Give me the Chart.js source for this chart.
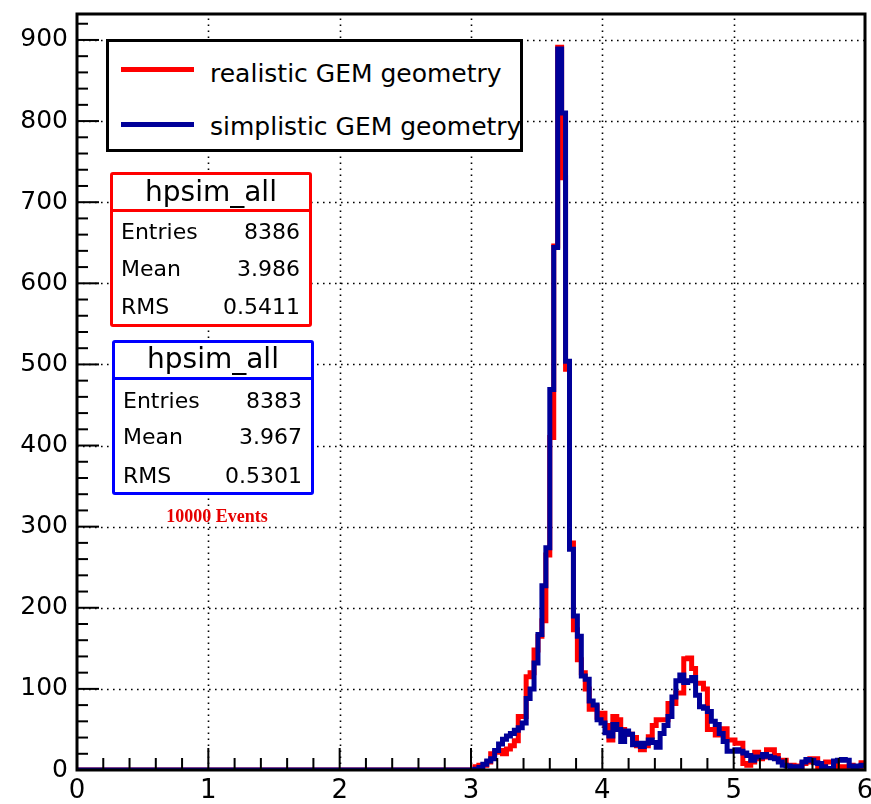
<!DOCTYPE html>
<html>
<head>
<meta charset="utf-8">
<title>hpsim_all</title>
<script src="https://cdn.jsdelivr.net/npm/chart.js@4.4.1/dist/chart.umd.min.js"></script>
<style>
  html, body { margin: 0; padding: 0; background: #fff; }
  #wrap { position: relative; width: 871px; height: 804px; overflow: hidden; }
  #chart { position: absolute; left: 0; top: 0; }
  .box { position: absolute; box-sizing: border-box; background: #fff; }
  .txt { position: absolute; font-family: 'DejaVu Sans', sans-serif; color: #000; white-space: nowrap; }
  .swatch { position: absolute; height: 5px; }
  .stat { font-size: 22px; line-height: 22px; }
  .title { font-size: 28px; line-height: 28px; }
  .leg { font-size: 25px; line-height: 25px; }
</style>
</head>
<body>
<div id="wrap">
  <canvas id="chart" width="871" height="804"></canvas>

  <!-- legend -->
  <div class="box" style="left:106px;top:39px;width:417px;height:113px;border:3px solid #000;"></div>
  <div class="swatch" style="left:121px;top:67px;width:73px;background:#ff0000;"></div>
  <div class="swatch" style="left:121px;top:122px;width:73px;background:#000099;"></div>
  <div class="txt leg" style="left:210px;top:61px;">realistic GEM geometry</div>
  <div class="txt leg" style="left:210px;top:114px;">simplistic GEM geometry</div>

  <!-- stats: realistic -->
  <div class="box" style="left:110px;top:172px;width:202px;height:155px;border:3px solid #ff0000;border-radius:3px;"></div>
  <div class="box" style="left:110px;top:209px;width:202px;height:3px;background:#ff0000;"></div>
  <div class="txt title" style="left:110px;width:202px;text-align:center;top:178px;">hpsim_all</div>
  <div class="txt stat" style="left:121px;top:221px;">Entries</div>
  <div class="txt stat" style="left:121px;top:258px;">Mean</div>
  <div class="txt stat" style="left:121px;top:296px;">RMS</div>
  <div class="txt stat" style="right:571px;top:221px;">8386</div>
  <div class="txt stat" style="right:571px;top:258px;">3.986</div>
  <div class="txt stat" style="right:571px;top:296px;">0.5411</div>

  <!-- stats: simplistic -->
  <div class="box" style="left:112px;top:340px;width:202px;height:155px;border:3px solid #0000ff;border-radius:3px;"></div>
  <div class="box" style="left:112px;top:377px;width:202px;height:3px;background:#0000ff;"></div>
  <div class="txt title" style="left:112px;width:202px;text-align:center;top:345px;">hpsim_all</div>
  <div class="txt stat" style="left:123px;top:390px;">Entries</div>
  <div class="txt stat" style="left:123px;top:426px;">Mean</div>
  <div class="txt stat" style="left:123px;top:465px;">RMS</div>
  <div class="txt stat" style="right:569px;top:390px;">8383</div>
  <div class="txt stat" style="right:569px;top:426px;">3.967</div>
  <div class="txt stat" style="right:569px;top:465px;">0.5301</div>

  <div class="txt" style="left:117px;width:200px;text-align:center;top:507px;font-family:'Liberation Serif',serif;font-weight:bold;font-size:18px;line-height:18px;color:#e60000;">10000 Events</div>
</div>

<script>
// histogram binning: 200 bins of 0.03 on [0, 6]; everything below 3.0 is empty
const xRange = [0, 6];
const yRange = [0, 932];
const binLow = 3.0;
const binWidth = 0.03;
const xTicks = [0, 1, 2, 3, 4, 5, 6];
const yTicks = [0, 100, 200, 300, 400, 500, 600, 700, 800, 900];

// bin contents from 3.00 to 5.97 (left edges)
const realistic = [
  0, 4, 6, 6, 10, 20, 22, 24, 20, 26,
  30, 36, 66, 66, 115, 120, 148, 165, 184, 265,
  410, 646, 891, 730, 494, 280, 173, 136, 120, 100,
  75, 78, 65, 70, 55, 37, 66, 62, 50, 45,
  44, 40, 30, 25, 30, 41, 55, 62, 62, 62,
  82, 82, 95, 95, 137, 138, 125, 107, 107, 100,
  50, 50, 43, 51, 51, 37, 37, 33, 33, 8,
  6, 10, 22, 14, 16, 25, 25, 18, 12, 12,
  6, 6, 5, 4, 8, 10, 14, 14, 2, 2,
  10, 10, 8, 2, 4, 4, 6, 4, 2, 9
];
const simplistic = [
  0, 1, 3, 7, 11, 14, 24, 32, 38, 42,
  45, 49, 52, 58, 88, 100, 132, 167, 227, 274,
  469, 644, 889, 810, 504, 272, 190, 165, 116, 112,
  85, 80, 62, 58, 46, 42, 56, 50, 35, 48,
  44, 31, 33, 29, 33, 37, 34, 28, 45, 55,
  66, 90, 110, 117, 108, 110, 114, 92, 78, 76,
  72, 60, 56, 45, 35, 23, 23, 25, 23, 21,
  18, 12, 16, 16, 19, 17, 15, 14, 10, 6,
  5, 4, 4, 4, 10, 13, 12, 9, 8, 4,
  2, 1, 11, 12, 13, 12, 5, 4, 5, 6
];

function toSteps(values) {
  const pts = [{ x: xRange[0], y: 0 }];
  values.forEach((v, i) => pts.push({ x: +(binLow + i * binWidth).toFixed(2), y: v }));
  pts.push({ x: xRange[1], y: values[values.length - 1] });
  return pts;
}

// ROOT style frame: dotted grid, thick box, ticks pointing inwards
const rootFrame = {
  id: 'rootFrame',
  beforeDatasetsDraw(chart) {
    const { ctx, chartArea: a, scales: { x, y } } = chart;
    ctx.save();
    ctx.strokeStyle = '#000';
    ctx.lineWidth = 1.6;
    ctx.setLineDash([1.6, 4.4]);
    xTicks.slice(1, -1).forEach(v => {
      const px = Math.round(x.getPixelForValue(v)) + 0.5;
      ctx.beginPath(); ctx.moveTo(px, a.bottom); ctx.lineTo(px, a.top); ctx.stroke();
    });
    yTicks.slice(1).forEach(v => {
      const py = Math.round(y.getPixelForValue(v)) + 0.5;
      ctx.beginPath(); ctx.moveTo(a.left, py); ctx.lineTo(a.right, py); ctx.stroke();
    });
    ctx.restore();
  },
  afterDatasetsDraw(chart) {
    const { ctx, chartArea: a, scales: { x, y } } = chart;
    ctx.save();
    ctx.strokeStyle = '#000';
    ctx.lineWidth = 3;
    ctx.strokeRect(a.left, a.top, a.right - a.left, a.bottom - a.top);
    ctx.lineWidth = 2;
    // x ticks every 0.2, long at integers
    for (let k = 0; k <= 30; k++) {
      const px = x.getPixelForValue(k * 0.2);
      const len = k % 5 === 0 ? 22 : 12;
      ctx.beginPath(); ctx.moveTo(px, a.bottom); ctx.lineTo(px, a.bottom - len); ctx.stroke();
    }
    // y ticks every 20, long at hundreds
    for (let v = 0; v <= yRange[1]; v += 20) {
      const py = y.getPixelForValue(v);
      const len = v % 100 === 0 ? 22 : 11;
      ctx.beginPath(); ctx.moveTo(a.left, py); ctx.lineTo(a.left + len, py); ctx.stroke();
    }
    ctx.restore();
  }
};

function noPad(s) {
  s.paddingTop = 0; s.paddingBottom = 0; s.paddingLeft = 0; s.paddingRight = 0;
}

new Chart(document.getElementById('chart').getContext('2d'), {
  type: 'line',
  data: {
    datasets: [{
      label: 'simplistic GEM geometry',
      data: toSteps(simplistic),
      borderColor: '#000099',
      borderWidth: 5,
      stepped: 'before',
      pointRadius: 0,
      borderJoinStyle: 'miter',
      borderCapStyle: 'butt',
      fill: false,
      order: 1
    }, {
      label: 'realistic GEM geometry',
      data: toSteps(realistic),
      borderColor: '#ff0000',
      borderWidth: 5,
      stepped: 'before',
      pointRadius: 0,
      borderJoinStyle: 'miter',
      borderCapStyle: 'butt',
      fill: false,
      order: 2
    }]
  },
  options: {
    responsive: false,
    animation: false,
    events: [],
    layout: { padding: { left: 0, right: 6, top: 14, bottom: 0 } },
    plugins: {
      legend: { display: false },
      tooltip: { enabled: false }
    },
    scales: {
      x: {
        type: 'linear',
        min: xRange[0],
        max: xRange[1],
        grid: { display: false, drawTicks: false },
        border: { display: false },
        afterBuildTicks: s => { s.ticks = xTicks.map(v => ({ value: v })); },
        afterFit: s => { s.height = 34; noPad(s); },
        ticks: { font: { family: 'DejaVu Sans', size: 26 }, color: '#000', padding: 6, maxRotation: 0, autoSkip: false }
      },
      y: {
        type: 'linear',
        min: yRange[0],
        max: yRange[1],
        grid: { display: false, drawTicks: false },
        border: { display: false },
        afterBuildTicks: s => { s.ticks = yTicks.map(v => ({ value: v })); },
        afterFit: s => { s.width = 77; noPad(s); },
        ticks: { font: { family: 'DejaVu Sans', size: 25 }, color: '#000', padding: 9, autoSkip: false }
      }
    }
  },
  plugins: [rootFrame]
});
</script>
</body>
</html>
